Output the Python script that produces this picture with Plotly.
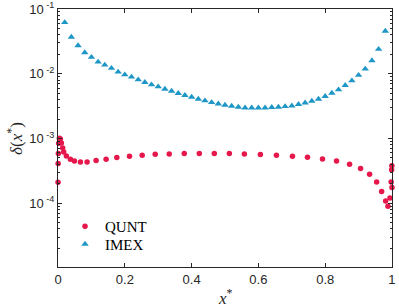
import plotly.graph_objects as go

# ---- data ----
imex_x = [0.02, 0.04, 0.06, 0.08, 0.10, 0.12, 0.14, 0.16, 0.18, 0.20,
          0.22, 0.24, 0.26, 0.28, 0.30, 0.32, 0.34, 0.36, 0.38, 0.40,
          0.42, 0.44, 0.46, 0.48, 0.50, 0.52, 0.54, 0.56, 0.58, 0.60,
          0.62, 0.64, 0.66, 0.68, 0.70, 0.72, 0.74, 0.76, 0.78, 0.80,
          0.82, 0.84, 0.86, 0.88, 0.90, 0.92, 0.94, 0.96, 0.98]
imex_y = [0.0619, 0.0368, 0.0273, 0.0212, 0.0180, 0.0152, 0.0137, 0.0122, 0.01066, 0.00968,
          0.00892, 0.00810, 0.00738, 0.00678, 0.00631, 0.00581, 0.00541, 0.00499, 0.00464, 0.00437,
          0.00407, 0.00383, 0.00361, 0.00344, 0.00328, 0.00317, 0.00306, 0.00298, 0.00298, 0.00298,
          0.00298, 0.00303, 0.00306, 0.00313, 0.00320, 0.00337, 0.00356, 0.00378, 0.00407, 0.00448,
          0.00504, 0.00567, 0.00664, 0.00782, 0.00949, 0.01186, 0.01596, 0.0240, 0.0456]

qunt_x = [0.0, 0.0003, 0.001, 0.002, 0.004, 0.007, 0.010, 0.014, 0.017, 0.025,
          0.037, 0.049, 0.067, 0.087, 0.114, 0.144, 0.176, 0.214, 0.252, 0.291,
          0.333, 0.378, 0.423, 0.468, 0.513, 0.558, 0.606, 0.654, 0.702, 0.747,
          0.792, 0.834, 0.873, 0.906, 0.933, 0.954, 0.969, 0.981, 0.988, 0.994,
          0.9975, 0.999, 0.9997, 1.0]
qunt_y = [2.1e-4, 4.1e-4, 5.85e-4, 8.45e-4, 1.01e-3, 9.8e-4, 8.5e-4, 7.1e-4, 6.2e-4, 5.37e-4,
          4.77e-4, 4.5e-4, 4.34e-4, 4.34e-4, 4.56e-4, 4.77e-4, 5.07e-4, 5.32e-4, 5.51e-4, 5.71e-4,
          5.77e-4, 5.85e-4, 5.85e-4, 5.85e-4, 5.85e-4, 5.77e-4, 5.65e-4, 5.51e-4, 5.32e-4, 5.13e-4,
          4.83e-4, 4.5e-4, 4.0e-4, 3.43e-4, 2.8e-4, 2.12e-4, 1.52e-4, 1.08e-4, 9.0e-5, 1.2e-4,
          2.12e-4, 3.3e-4, 3.8e-4, 1.75e-4]

x_tickvals = [0, 0.2, 0.4, 0.6, 0.8, 1]
x_ticktext = ["0", "0.2", "0.4", "0.6", "0.8", "1"]
y_tickvals = [1e-4, 1e-3, 1e-2, 1e-1]
y_ticktext = ["10<sup> -4</sup>", "10<sup> -3</sup>", "10<sup> -2</sup>", "10<sup> -1</sup>"]

RED = "#E5174B"
BLUE = "#1F97C6"
AXIS = "#262626"
SERIF = "Liberation Serif, Times New Roman, serif"

fig = go.Figure()
fig.add_trace(go.Scatter(x=qunt_x, y=qunt_y, mode="markers", name="QUNT", legend="legend",
                         cliponaxis=False,
                         marker=dict(symbol="circle", size=5.5, color=RED, line=dict(width=0))))
fig.add_trace(go.Scatter(x=imex_x, y=imex_y, mode="markers", name="IMEX", legend="legend2",
                         marker=dict(symbol="triangle-up", size=6.5, color=BLUE, line=dict(width=0))))

leg_common = dict(xanchor="left", yanchor="middle", bgcolor="rgba(0,0,0,0)", borderwidth=0,
                  font=dict(family=SERIF, size=15, color="black"), itemwidth=30)

fig.update_layout(
    width=399, height=308,
    margin=dict(l=58, r=7, t=9, b=41, autoexpand=False),
    paper_bgcolor="white", plot_bgcolor="white",
    font=dict(family="Liberation Sans, Arial, sans-serif", size=13, color=AXIS),
    showlegend=True,
    legend=dict(x=0.021, y=0.157, **leg_common),
    legend2=dict(x=0.021, y=0.088, **leg_common),
    annotations=[
        dict(text="<i>δ</i>(<i>x</i><sup>*</sup>)", xref="paper", yref="paper",
             x=-0.129, y=0.5, xanchor="center", yanchor="middle", textangle=-90,
             showarrow=False, font=dict(family=SERIF, size=17, color=AXIS)),
        dict(text="<i>x</i><sup>*</sup>", xref="paper", yref="paper",
             x=0.5, y=-0.118, xanchor="center", yanchor="middle",
             showarrow=False, font=dict(family=SERIF, size=17, color=AXIS)),
    ],
)
fig.update_xaxes(
    range=[-0.0001, 1.0001], tickmode="array", tickvals=x_tickvals, ticktext=x_ticktext,
    ticks="inside", ticklen=4, tickwidth=1, tickcolor=AXIS,
    showline=True, linecolor=AXIS, linewidth=1, mirror="allticks",
    showgrid=False, zeroline=False, automargin=False,
    tickfont=dict(size=13, color=AXIS),
)
fig.update_yaxes(
    type="log", range=[-4.985, -1], tickmode="array", tickvals=y_tickvals, ticktext=y_ticktext,
    ticks="inside", ticklen=4, tickwidth=1, tickcolor=AXIS,
    showline=True, linecolor=AXIS, linewidth=1, mirror="allticks",
    showgrid=False, zeroline=False, automargin=False,
    tickfont=dict(size=13, color=AXIS),
    minor=dict(ticks="inside", ticklen=2, tickwidth=1, tickcolor=AXIS, showgrid=False, dtick="D1"),
)

fig.write_html("out.html", config={"displayModeBar": False},
               post_script="document.body.style.margin='0';document.body.style.overflow='hidden';")
